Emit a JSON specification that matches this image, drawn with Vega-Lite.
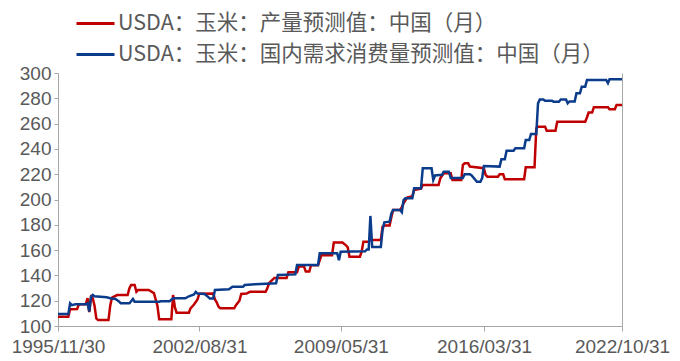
{
"$schema":"https://vega.github.io/schema/vega-lite/v6.json",
"width":564,"height":253,
"autosize":{"type":"none"},
"padding":{"left":58,"top":73,"right":58,"bottom":35},
"config":{"view":{"stroke":null},"font":"Liberation Sans"},
"datasets":{"rows":[
{"d":"1995/11/30","s":"p","v":107.4},{"d":"1996/05/28","s":"p","v":107.4},{"d":"1996/06/28","s":"p","v":113.2},{"d":"1996/10/28","s":"p","v":113.5},{"d":"1996/11/28","s":"p","v":117.2},{"d":"1997/03/28","s":"p","v":117.2},{"d":"1997/04/28","s":"p","v":122},{"d":"1997/05/28","s":"p","v":111},{"d":"1997/06/28","s":"p","v":123},{"d":"1997/07/28","s":"p","v":122},{"d":"1997/08/28","s":"p","v":116},{"d":"1997/09/28","s":"p","v":106},{"d":"1997/10/28","s":"p","v":104.7},{"d":"1998/04/28","s":"p","v":104.7},{"d":"1998/05/28","s":"p","v":116},{"d":"1998/06/28","s":"p","v":122.5},{"d":"1998/09/28","s":"p","v":124.5},{"d":"1999/03/28","s":"p","v":124.5},{"d":"1999/04/28","s":"p","v":129.8},{"d":"1999/05/28","s":"p","v":132.4},{"d":"1999/07/28","s":"p","v":132.4},{"d":"1999/08/28","s":"p","v":127},{"d":"1999/09/28","s":"p","v":128.5},{"d":"2000/03/28","s":"p","v":128.5},{"d":"2000/06/28","s":"p","v":126},{"d":"2000/08/28","s":"p","v":116},{"d":"2000/09/28","s":"p","v":105.3},{"d":"2001/04/28","s":"p","v":105.3},{"d":"2001/05/28","s":"p","v":124.5},{"d":"2001/06/28","s":"p","v":115},{"d":"2001/07/28","s":"p","v":110.5},{"d":"2002/02/28","s":"p","v":110.5},{"d":"2002/03/28","s":"p","v":114},{"d":"2002/05/28","s":"p","v":117},{"d":"2002/07/28","s":"p","v":121},{"d":"2002/08/28","s":"p","v":125.5},{"d":"2003/04/28","s":"p","v":125.6},{"d":"2003/05/28","s":"p","v":121},{"d":"2003/06/28","s":"p","v":118.8},{"d":"2003/07/28","s":"p","v":115.3},{"d":"2003/08/28","s":"p","v":114},{"d":"2004/04/28","s":"p","v":114},{"d":"2004/05/28","s":"p","v":116.5},{"d":"2004/07/28","s":"p","v":120},{"d":"2004/08/28","s":"p","v":125.3},{"d":"2004/11/28","s":"p","v":125.6},{"d":"2005/01/28","s":"p","v":127},{"d":"2005/10/28","s":"p","v":127},{"d":"2005/11/28","s":"p","v":130},{"d":"2005/12/28","s":"p","v":134},{"d":"2006/03/28","s":"p","v":138},{"d":"2006/10/28","s":"p","v":138},{"d":"2006/11/28","s":"p","v":142.5},{"d":"2007/04/28","s":"p","v":142.5},{"d":"2007/05/28","s":"p","v":147},{"d":"2007/08/28","s":"p","v":147},{"d":"2007/09/28","s":"p","v":143},{"d":"2007/11/28","s":"p","v":143},{"d":"2007/12/28","s":"p","v":148},{"d":"2008/04/28","s":"p","v":148},{"d":"2008/05/28","s":"p","v":152},{"d":"2008/06/28","s":"p","v":156},{"d":"2008/12/28","s":"p","v":156},{"d":"2009/01/28","s":"p","v":166},{"d":"2009/06/28","s":"p","v":166},{"d":"2009/08/28","s":"p","v":163.8},{"d":"2009/09/28","s":"p","v":162.2},{"d":"2009/10/28","s":"p","v":154.8},{"d":"2010/04/28","s":"p","v":154.8},{"d":"2010/05/28","s":"p","v":158.7},{"d":"2010/06/28","s":"p","v":166.6},{"d":"2010/09/28","s":"p","v":166.6},{"d":"2010/10/28","s":"p","v":168},{"d":"2011/04/28","s":"p","v":168},{"d":"2011/05/28","s":"p","v":178.5},{"d":"2011/06/28","s":"p","v":179.5},{"d":"2011/09/28","s":"p","v":179.5},{"d":"2011/10/28","s":"p","v":186},{"d":"2011/11/28","s":"p","v":191.7},{"d":"2012/03/28","s":"p","v":191.7},{"d":"2012/04/28","s":"p","v":194},{"d":"2012/05/28","s":"p","v":197},{"d":"2012/07/28","s":"p","v":201.5},{"d":"2012/10/28","s":"p","v":202.5},{"d":"2012/11/28","s":"p","v":207.5},{"d":"2013/03/28","s":"p","v":208.5},{"d":"2013/04/28","s":"p","v":211.5},{"d":"2014/01/28","s":"p","v":211.5},{"d":"2014/02/28","s":"p","v":216.8},{"d":"2014/04/28","s":"p","v":220.7},{"d":"2014/08/28","s":"p","v":220.7},{"d":"2014/09/28","s":"p","v":215.4},{"d":"2015/02/28","s":"p","v":215.4},{"d":"2015/03/28","s":"p","v":227.3},{"d":"2015/04/28","s":"p","v":228.6},{"d":"2015/06/28","s":"p","v":228.6},{"d":"2015/07/28","s":"p","v":226},{"d":"2016/03/28","s":"p","v":224.7},{"d":"2016/04/28","s":"p","v":219.4},{"d":"2016/05/28","s":"p","v":218},{"d":"2016/11/28","s":"p","v":218},{"d":"2016/12/28","s":"p","v":220},{"d":"2017/02/28","s":"p","v":220},{"d":"2017/03/28","s":"p","v":216},{"d":"2018/02/28","s":"p","v":216},{"d":"2018/03/28","s":"p","v":225.5},{"d":"2018/08/28","s":"p","v":225.5},{"d":"2018/09/28","s":"p","v":256.3},{"d":"2018/10/28","s":"p","v":257.6},{"d":"2019/02/28","s":"p","v":257.6},{"d":"2019/03/28","s":"p","v":254.4},{"d":"2019/08/28","s":"p","v":254.4},{"d":"2019/09/28","s":"p","v":261.5},{"d":"2021/01/28","s":"p","v":261.5},{"d":"2021/02/28","s":"p","v":265},{"d":"2021/03/28","s":"p","v":268.7},{"d":"2021/05/28","s":"p","v":268.7},{"d":"2021/06/28","s":"p","v":273},{"d":"2022/02/28","s":"p","v":273},{"d":"2022/03/28","s":"p","v":271.3},{"d":"2022/06/28","s":"p","v":271.3},{"d":"2022/07/28","s":"p","v":274.7},{"d":"2022/10/31","s":"p","v":274.7},
{"d":"1995/11/30","s":"c","v":109.5},{"d":"1996/05/28","s":"c","v":109.5},{"d":"1996/06/28","s":"c","v":117.9},{"d":"1996/07/28","s":"c","v":116.5},{"d":"1996/09/28","s":"c","v":117.2},{"d":"1997/03/28","s":"c","v":117.2},{"d":"1997/04/28","s":"c","v":118},{"d":"1997/05/28","s":"c","v":111.5},{"d":"1997/06/28","s":"c","v":123},{"d":"1997/07/28","s":"c","v":124.5},{"d":"1997/08/28","s":"c","v":123.5},{"d":"1998/03/28","s":"c","v":122.7},{"d":"1998/05/28","s":"c","v":122},{"d":"1998/08/28","s":"c","v":121.3},{"d":"1998/10/28","s":"c","v":119.5},{"d":"1998/11/28","s":"c","v":117.9},{"d":"1999/04/28","s":"c","v":117.9},{"d":"1999/05/28","s":"c","v":119.5},{"d":"1999/06/28","s":"c","v":121.4},{"d":"1999/07/28","s":"c","v":119.2},{"d":"2000/09/28","s":"c","v":119.2},{"d":"2000/10/28","s":"c","v":119.6},{"d":"2001/03/28","s":"c","v":119.6},{"d":"2001/05/28","s":"c","v":121.9},{"d":"2001/12/28","s":"c","v":121.9},{"d":"2002/02/28","s":"c","v":123.5},{"d":"2002/05/28","s":"c","v":125},{"d":"2002/06/28","s":"c","v":127},{"d":"2002/07/28","s":"c","v":125.6},{"d":"2002/11/28","s":"c","v":125.3},{"d":"2003/01/28","s":"c","v":123},{"d":"2003/02/28","s":"c","v":121.7},{"d":"2003/04/28","s":"c","v":121.7},{"d":"2003/05/28","s":"c","v":128.5},{"d":"2004/01/28","s":"c","v":129},{"d":"2004/03/28","s":"c","v":131},{"d":"2004/09/28","s":"c","v":131},{"d":"2004/10/28","s":"c","v":132.4},{"d":"2005/04/28","s":"c","v":133},{"d":"2006/04/28","s":"c","v":133.7},{"d":"2006/05/28","s":"c","v":140.3},{"d":"2007/03/28","s":"c","v":140.8},{"d":"2007/04/28","s":"c","v":148.2},{"d":"2008/04/28","s":"c","v":148.2},{"d":"2008/05/28","s":"c","v":157.5},{"d":"2009/03/28","s":"c","v":157.5},{"d":"2009/04/28","s":"c","v":152},{"d":"2009/05/28","s":"c","v":158.7},{"d":"2010/07/28","s":"c","v":159},{"d":"2010/08/28","s":"c","v":160.5},{"d":"2010/09/28","s":"c","v":160.5},{"d":"2010/10/28","s":"c","v":187},{"d":"2010/11/28","s":"c","v":162.5},{"d":"2011/04/28","s":"c","v":162.5},{"d":"2011/05/28","s":"c","v":176},{"d":"2011/06/28","s":"c","v":182},{"d":"2011/09/28","s":"c","v":182.5},{"d":"2011/10/28","s":"c","v":189},{"d":"2011/11/28","s":"c","v":191.7},{"d":"2012/03/28","s":"c","v":191.7},{"d":"2012/04/28","s":"c","v":190},{"d":"2012/05/28","s":"c","v":199.6},{"d":"2012/06/28","s":"c","v":201},{"d":"2012/10/28","s":"c","v":201},{"d":"2012/11/28","s":"c","v":208.8},{"d":"2013/03/28","s":"c","v":208.8},{"d":"2013/04/28","s":"c","v":224.7},{"d":"2013/09/28","s":"c","v":224.7},{"d":"2013/10/28","s":"c","v":215.4},{"d":"2013/11/28","s":"c","v":219},{"d":"2014/03/28","s":"c","v":219.5},{"d":"2014/04/28","s":"c","v":222},{"d":"2014/07/28","s":"c","v":222},{"d":"2014/08/28","s":"c","v":217},{"d":"2015/03/28","s":"c","v":217},{"d":"2015/04/28","s":"c","v":220},{"d":"2015/07/28","s":"c","v":220},{"d":"2015/08/28","s":"c","v":219},{"d":"2015/11/28","s":"c","v":214},{"d":"2016/01/28","s":"c","v":214},{"d":"2016/02/28","s":"c","v":217},{"d":"2016/03/28","s":"c","v":226.5},{"d":"2016/12/28","s":"c","v":226},{"d":"2017/01/28","s":"c","v":231.8},{"d":"2017/03/28","s":"c","v":231.8},{"d":"2017/04/28","s":"c","v":238.6},{"d":"2017/08/28","s":"c","v":238.6},{"d":"2017/09/28","s":"c","v":240.5},{"d":"2018/02/28","s":"c","v":240.5},{"d":"2018/03/28","s":"c","v":247},{"d":"2018/05/28","s":"c","v":247},{"d":"2018/06/28","s":"c","v":251.8},{"d":"2018/09/28","s":"c","v":251.8},{"d":"2018/10/28","s":"c","v":276},{"d":"2018/11/28","s":"c","v":279},{"d":"2019/01/28","s":"c","v":279},{"d":"2019/02/28","s":"c","v":278},{"d":"2019/06/28","s":"c","v":278},{"d":"2019/07/28","s":"c","v":277.3},{"d":"2019/10/28","s":"c","v":277.3},{"d":"2019/11/28","s":"c","v":279},{"d":"2020/02/28","s":"c","v":279},{"d":"2020/03/28","s":"c","v":276},{"d":"2020/04/28","s":"c","v":277.5},{"d":"2020/07/28","s":"c","v":277.5},{"d":"2020/08/28","s":"c","v":284},{"d":"2020/10/28","s":"c","v":284},{"d":"2020/11/28","s":"c","v":289.2},{"d":"2021/01/28","s":"c","v":289.2},{"d":"2021/02/28","s":"c","v":294.5},{"d":"2022/01/28","s":"c","v":294.5},{"d":"2022/02/28","s":"c","v":292},{"d":"2022/03/28","s":"c","v":295},{"d":"2022/10/31","s":"c","v":295}
]},
"data":{"name":"rows"},
"layer":[
{"mark":{"type":"line","strokeWidth":2.5},
 "encoding":{
  "x":{"field":"d","type":"temporal",
   "scale":{"domain":[{"year":1995,"month":11,"date":30},{"year":2022,"month":10,"date":31}]},
   "axis":{"values":[{"year":1995,"month":11,"date":30},{"year":2002,"month":8,"date":31},{"year":2009,"month":5,"date":31},{"year":2016,"month":3,"date":31},{"year":2022,"month":10,"date":31}],
    "format":"%Y/%m/%d","title":null,"grid":false,"labelFontSize":19,"labelColor":"#595959","labelFont":"Liberation Sans",
    "domainColor":"#A6A6A6","tickColor":"#A6A6A6","tickSize":5,"labelPadding":6,"labelOverlap":false,"labelFlush":false}},
  "y":{"field":"v","type":"quantitative","scale":{"domain":[100,300],"nice":false,"zero":false},
   "axis":{"values":[100,120,140,160,180,200,220,240,260,280,300],"title":null,"grid":false,"labelFontSize":19,"labelColor":"#595959","labelFont":"Liberation Sans",
    "domainColor":"#A6A6A6","tickColor":"#A6A6A6","tickSize":4,"labelPadding":3}},
  "color":{"field":"s","type":"nominal","sort":["p","c"],
   "scale":{"domain":["p","c"],"range":["#C00000","#0B3C8C"]},
   "legend":{"orient":"none","legendX":17,"legendY":-70,"direction":"vertical","title":null,
    "symbolType":"stroke","symbolSize":1444,"symbolStrokeWidth":3,
    "labelFontSize":21.5,"labelFont":"Noto Sans CJK SC","labelColor":"#595959","labelLimit":700,"labelOffset":2,"rowPadding":-10,"padding":0,
    "labelExpr":"datum.value == 'p' ? 'USDA：玉米：产量预测值：中国（月）' : 'USDA：玉米：国内需求消费量预测值：中国（月）'"}}
 }},
{"mark":{"type":"line","opacity":0},
 "encoding":{
  "x":{"field":"d","type":"temporal"},
  "y":{"field":"v","type":"quantitative","axis":{"orient":"right","labels":false,"ticks":false,"title":null,"grid":false,"domainColor":"#A6A6A6"}},
  "detail":{"field":"s"}
 }}
],
"resolve":{"axis":{"y":"independent"}}
}
